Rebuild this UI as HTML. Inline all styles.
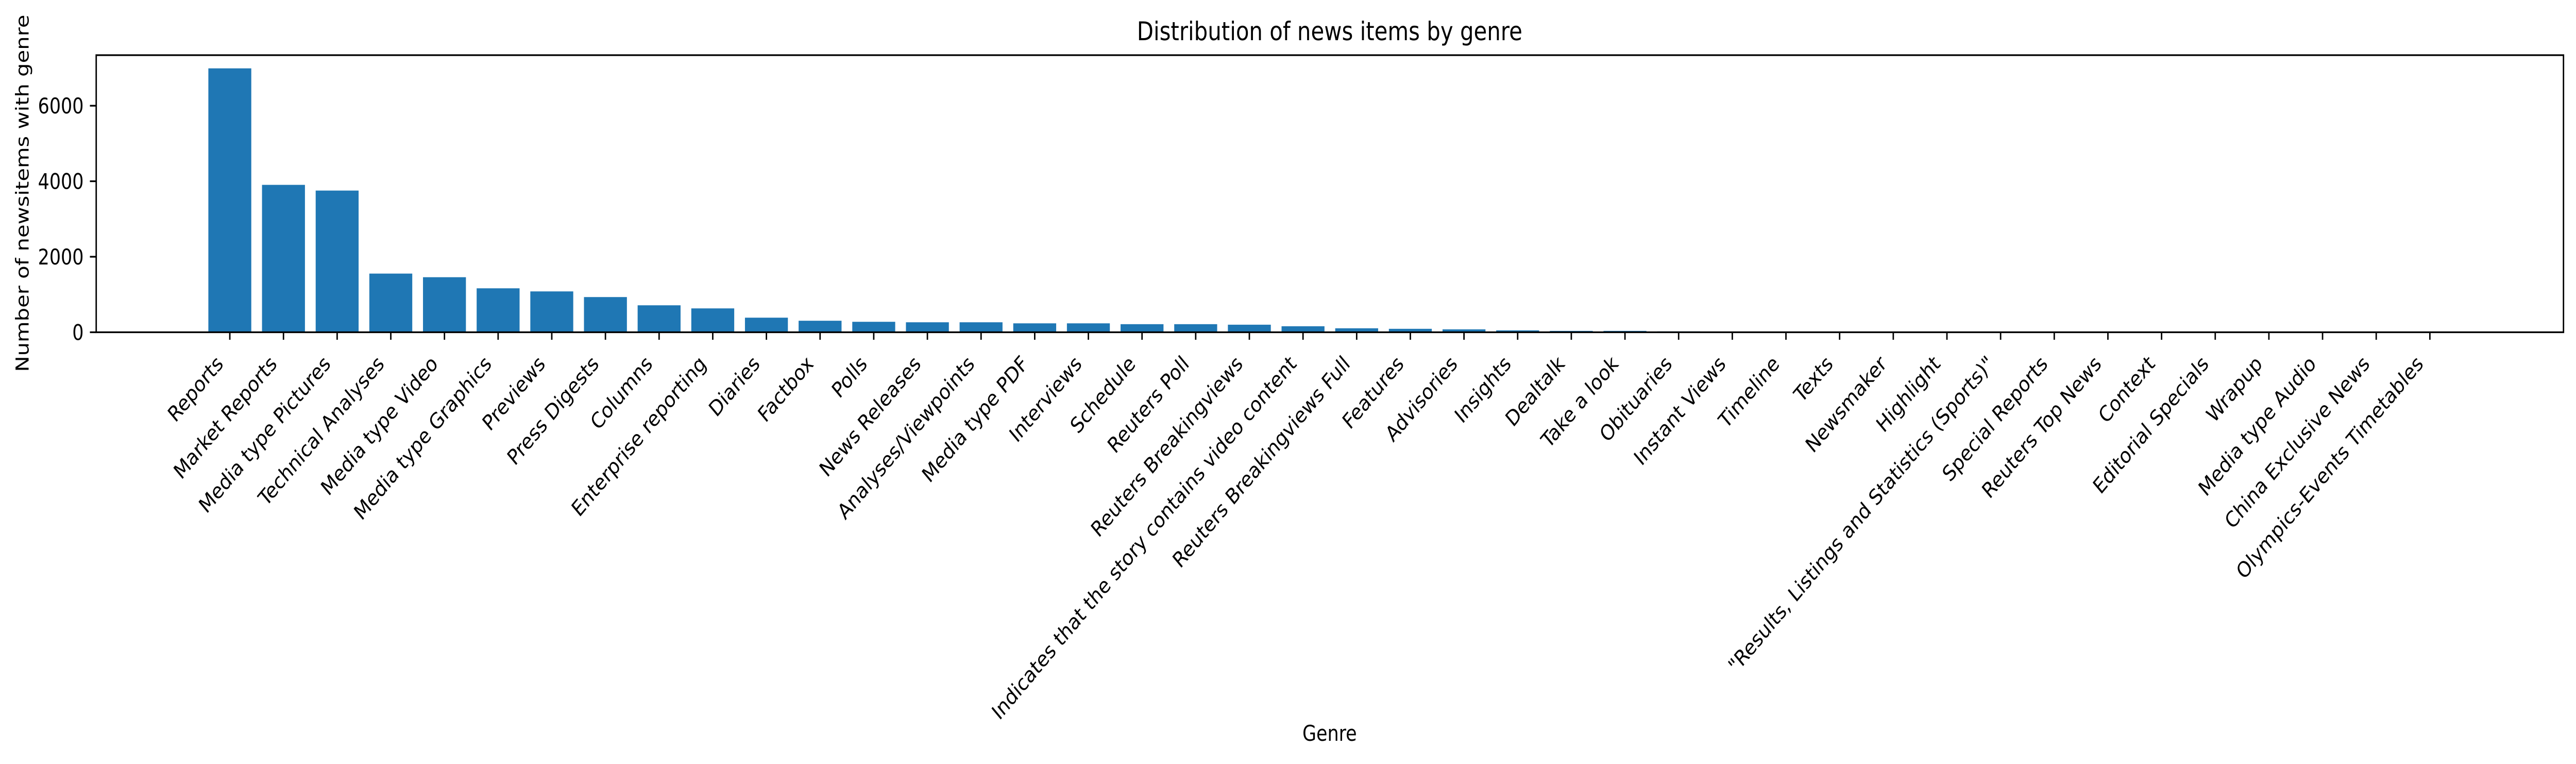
<!DOCTYPE html>
<html><head><meta charset="utf-8"><style>
html,body{margin:0;padding:0;background:#fff;width:100%;height:100%;overflow:hidden;}
svg{display:block;font-family:"DejaVu Sans","Liberation Sans",sans-serif;width:100vw;height:100vh;}
</style></head><body>
<svg id="chart" viewBox="0 0 5971 1482" preserveAspectRatio="none" xmlns="http://www.w3.org/2000/svg">
<rect x="0" y="0" width="5971" height="1482" fill="#fff"/>
<text x="3082" y="78" font-size="50" text-anchor="middle">Distribution of news items by genre</text>
<text transform="translate(66,375) rotate(-90)" font-size="41.7" text-anchor="middle">Number of newsitems with genre</text>
<text x="3082" y="1437" font-size="41.7" text-anchor="middle">Genre</text>
<g id="bars"></g>
<g id="yticks"></g>
<g id="xticks"></g>
<rect x="223" y="107" width="5719" height="537.5" fill="none" stroke="#000" stroke-width="3.3"/>
</svg>
<script>
const categories = ["Reports","Market Reports","Media type Pictures","Technical Analyses","Media type Video","Media type Graphics","Previews","Press Digests","Columns","Enterprise reporting","Diaries","Factbox","Polls","News Releases","Analyses/Viewpoints","Media type PDF","Interviews","Schedule","Reuters Poll","Reuters Breakingviews","Indicates that the story contains video content","Reuters Breakingviews Full","Features","Advisories","Insights","Dealtalk","Take a look","Obituaries","Instant Views","Timeline","Texts","Newsmaker","Highlight","\"Results, Listings and Statistics (Sports)\"","Special Reports","Reuters Top News","Context","Editorial Specials","Wrapup","Media type Audio","China Exclusive News","Olympics-Events Timetables"];
const counts = [6990,3904,3753,1554,1458,1164,1082,932,714,632,386,305,277,264,264,236,236,214,214,200,159,105,91,77,50,36,36,23,9,6,5,4,3,1,1,1,1,1,1,1,1,1];
const yTickValues = [0,2000,4000,6000];
const yTickLabels = ["0","2000","4000","6000"];

const NS="http://www.w3.org/2000/svg";
const L=223,R=5942,T=107,B=644.5;
const xMin=-2.49,xMax=categories.length-1+2.49;
const yMax=Math.max(...counts)*1.05;
function xs(i){return L+(i-xMin)/(xMax-xMin)*(R-L);}
function ys(v){return B-v/yMax*(B-T);}
const unit=(R-L)/(xMax-xMin);
function mk(tag,attrs,parent){const e=document.createElementNS(NS,tag);for(const k in attrs)e.setAttribute(k,attrs[k]);parent.appendChild(e);return e;}
const gb=document.getElementById('bars'),gx=document.getElementById('xticks'),gy=document.getElementById('yticks');
categories.forEach((c,i)=>{
  const y=ys(counts[i]);
  const r=mk('rect',{x:xs(i)-0.4*unit,y:y,width:0.8*unit,height:B-y,fill:'#1f77b4'},gb);
  
  
  const t=mk('line',{x1:xs(i),x2:xs(i),y1:B,y2:B+14.6,stroke:'#000','stroke-width':3.3},gx);
  
  
  const ex=xs(i)-13,ey=708;
  const tx=mk('text',{x:ex,y:ey,'font-size':41.7,'text-anchor':'end',transform:`rotate(-45 ${ex} ${ey})`},gx);
  tx.textContent=c;
  
  
});
yTickValues.forEach((v,i)=>{
  const y=ys(v);
  const t=mk('line',{x1:L-14.6,x2:L,y1:y,y2:y,stroke:'#000','stroke-width':3.3},gy);
  
  
  const tx=mk('text',{x:L-29,y:y+15,'font-size':41.7,'text-anchor':'end'},gy);
  tx.textContent=yTickLabels[i];
  
  
});
</script>
</body></html>
